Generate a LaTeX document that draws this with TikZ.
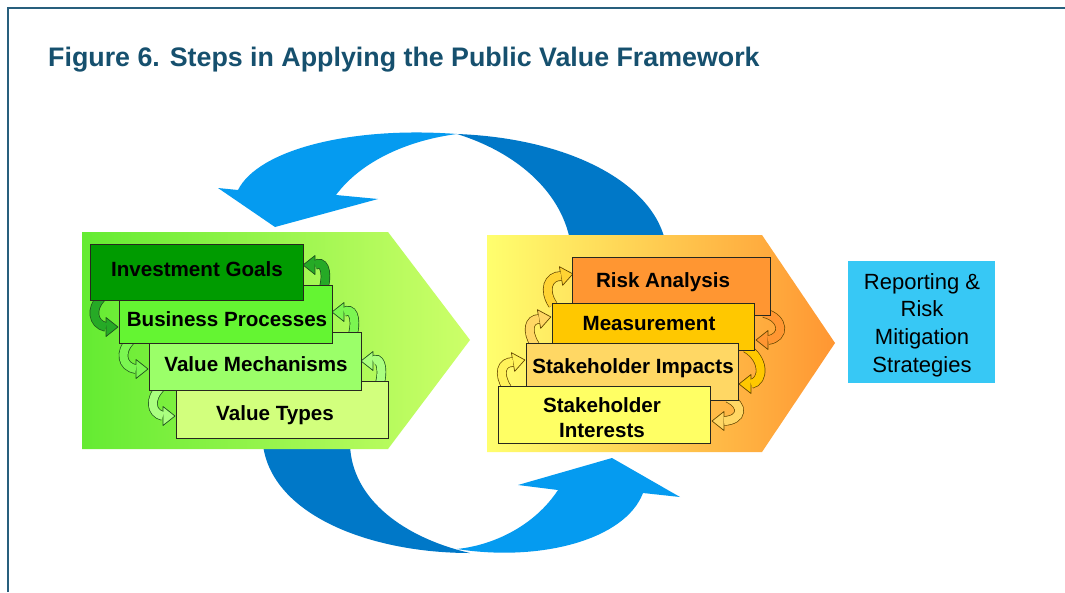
\documentclass[tikz,border=0pt]{standalone}
\usepackage{fontspec}
\setmainfont{Liberation Sans}
\usetikzlibrary{calc}
\definecolor{titlecol}{RGB}{22,80,110}
\definecolor{framecol}{RGB}{40,95,125}
\definecolor{bluelight}{RGB}{5,155,240}
\definecolor{bluedark}{RGB}{0,120,200}
\definecolor{gleft}{RGB}{100,235,50}
\definecolor{gright}{RGB}{205,255,105}
\definecolor{oleft}{RGB}{255,255,110}
\definecolor{oright}{RGB}{255,150,50}
\definecolor{igfill}{RGB}{0,155,0}
\definecolor{bpfill}{RGB}{100,245,50}
\definecolor{vmfill}{RGB}{155,255,105}
\definecolor{vtfill}{RGB}{210,255,125}
\definecolor{rafill}{RGB}{255,150,50}
\definecolor{mefill}{RGB}{255,200,0}
\definecolor{sifill}{RGB}{255,215,100}
\definecolor{snfill}{RGB}{255,255,100}
\definecolor{repfill}{RGB}{55,200,245}
\definecolor{garrline}{RGB}{30,80,30}
\definecolor{oarrline}{RGB}{100,70,0}
\definecolor{boxline}{RGB}{40,40,30}
\newcommand\sarrow[7]{%
  \draw[line width=9.6pt, draw=#7] #2 .. controls #3 and #4 .. #5;
  \filldraw[fill=#1, draw=#7, line width=0.7pt, line join=round]
    ($#5+(#6:12)$) -- ($#5+(#6+90:9.5)$) -- ($#5+(#6-90:9.5)$) -- cycle;
  \draw[line width=8.2pt, draw=#1] #2 .. controls #3 and #4 .. #5;
}
\begin{document}
\begin{tikzpicture}[x=1pt,y=-1pt,
  box/.style={draw=boxline, line width=1pt, inner sep=0pt, anchor=north west},
  boxtext/.style={font=\fontsize{20.6}{25}\selectfont\bfseries, inner sep=0pt, anchor=base, align=center},
]
\useasboundingbox (0,0) rectangle (1065,592);
\fill[white] (0,0) rectangle (1065,592);
% frame
\draw[framecol, line width=2pt] (8,592) -- (8,7.5) -- (1065,7.5);
% title
\node[anchor=base west, inner sep=0pt, text=titlecol, font=\fontsize{26.8}{30}\selectfont\bfseries] (title) at (48,66) {Figure 6. Steps in Applying the Public Value Framework};

% blue circular arrows
\fill[bluedark] (457,134) .. controls (565,138) and (650,180) .. (665,240) -- (570,240) .. controls (560,190) and (515,152) .. (457,134) -- cycle;
\fill[bluelight] (457,134) .. controls (350,126) and (258,150) .. (238,190) -- (218,188) -- (275,227) -- (378,199) -- (336,195) .. controls (362,160) and (410,140) .. (457,134) -- cycle;
\fill[bluedark] (263,445) .. controls (272,515) and (370,553) .. (470,553) .. controls (405,538) and (352,500) .. (350,445) -- cycle;
\fill[bluelight] (457,549) .. controls (540,562) and (625,540) .. (643,493) -- (680,497) -- (612,458) -- (518,485) -- (558,490) .. controls (535,525) and (495,545) .. (457,549) -- cycle;

% pentagons
\shade[left color=gleft, right color=gright] (82,232) -- (388,232) -- (470,340) -- (388,449) -- (82,449) -- cycle;
\shade[left color=oleft, right color=oright] (487,235) -- (762,235) -- (835,343) -- (762,452) -- (487,452) -- cycle;

% small curved arrows, green group
\sarrow{igfill!85!white}{(101,298)}{(91,308)}{(92,324)}{(106,327)}{0}{garrline}
\sarrow{bpfill!85!white}{(130,341)}{(120,351)}{(121,367)}{(136,369)}{0}{garrline}
\sarrow{vmfill!85!white}{(160,388)}{(150,398)}{(150,413)}{(163,416)}{0}{garrline}
\sarrow{igfill!85!white}{(324,287)}{(328,270)}{(323,260)}{(315,265)}{180}{garrline}
\sarrow{bpfill!85!white}{(353,334)}{(357,317)}{(352,307)}{(344,312)}{180}{garrline}
\sarrow{vmfill!85!white}{(380,383)}{(384,366)}{(379,356)}{(373,361)}{180}{garrline}
% small curved arrows, orange group
\sarrow{snfill!90!orange}{(507,388)}{(498,374)}{(501,362)}{(513,362)}{-10}{oarrline}
\sarrow{sifill}{(535,345)}{(526,331)}{(529,319)}{(539,319)}{-10}{oarrline}
\sarrow{mefill!80!white}{(553,305)}{(543,290)}{(548,276)}{(561,276)}{-10}{oarrline}
\sarrow{rafill}{(764,313)}{(785,318)}{(785,338)}{(768,340)}{180}{oarrline}
\sarrow{mefill}{(746,348)}{(764,358)}{(765,381)}{(751,384)}{180}{oarrline}
\sarrow{sifill}{(728,398)}{(744,405)}{(743,420)}{(724,421)}{180}{oarrline}

% green boxes
\node[box, fill=vtfill, minimum width=212pt, minimum height=57pt] (vt) at (176,381) {};
\node[box, fill=vmfill, minimum width=212pt, minimum height=58pt] (vm) at (149,332) {};
\node[box, fill=bpfill, minimum width=213pt, minimum height=58pt] (bp) at (119,285) {};
\node[box, fill=igfill, minimum width=213pt, minimum height=56pt] (ig) at (90,244) {};
\node[boxtext] (igt) at (197,276) {Investment Goals};
\node[boxtext] (bpt) at (227,326) {Business Processes};
\node[boxtext] (vmt) at (256,371) {Value Mechanisms};
\node[boxtext] (vtt) at (275,420) {Value Types};

% orange boxes
\node[box, fill=rafill, minimum width=198pt, minimum height=58pt] (ra) at (572,257) {};
\node[box, fill=mefill, minimum width=202pt, minimum height=47pt] (me) at (552,303) {};
\node[box, fill=sifill, minimum width=212pt, minimum height=57pt] (si) at (526,343) {};
\node[box, fill=snfill, minimum width=212pt, minimum height=57pt] (sn) at (498,386) {};
\node[boxtext] (rat) at (663,287) {Risk Analysis};
\node[boxtext] (met) at (649,330) {Measurement};
\node[boxtext] (sit) at (633,373) {Stakeholder Impacts};
\node[boxtext, anchor=center] (snt) at (602,418) {Stakeholder\\Interests};

% reporting box
\node[draw=none, fill=repfill, minimum width=147pt, minimum height=122pt, inner sep=0pt, anchor=north west] (rep) at (848,261) {};
\node[font=\fontsize{22}{27.7}\selectfont, align=center, inner sep=0pt] (rept) at (922,325) {Reporting \&\\Risk\\Mitigation\\Strategies};
\end{tikzpicture}
\end{document}
